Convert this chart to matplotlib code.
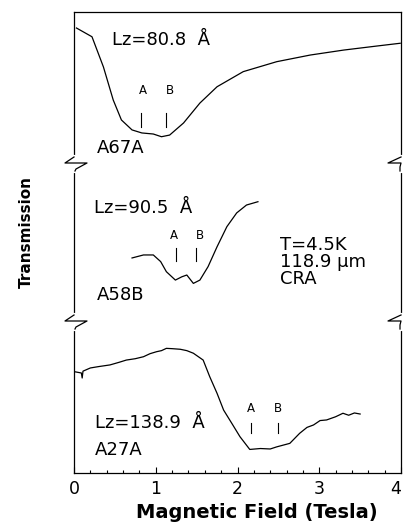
import matplotlib
matplotlib.use("Agg")
import matplotlib.pyplot as plt
from matplotlib.lines import Line2D
from matplotlib.ticker import MultipleLocator

plt.rcParams['font.family'] = ['DejaVu Sans']

# ---- data (relative transmission per panel) ----
b1 = [0.03, 0.22, 0.36, 0.48, 0.58, 0.71, 0.83, 0.97, 1.07, 1.17, 1.34, 1.54, 1.75, 2.07, 2.48, 2.89, 3.30, 3.71, 3.99]
t1 = [0.894, 0.836, 0.636, 0.417, 0.285, 0.219, 0.199, 0.192, 0.174, 0.185, 0.265, 0.397, 0.505, 0.605, 0.671, 0.715, 0.748, 0.775, 0.793]

b2 = [0.71, 0.85, 0.97, 1.06, 1.13, 1.24, 1.32, 1.38, 1.46, 1.54, 1.64, 1.75, 1.87, 1.99, 2.11, 2.25]
t2 = [0.399, 0.418, 0.418, 0.376, 0.312, 0.259, 0.280, 0.291, 0.238, 0.259, 0.344, 0.470, 0.597, 0.684, 0.734, 0.755]

b3 = [0.01, 0.09, 0.10, 0.11, 0.20, 0.30, 0.44, 0.55, 0.64, 0.75, 0.85, 0.93, 1.01, 1.07, 1.13, 1.20, 1.30, 1.38, 1.46,
      1.58, 1.66, 1.75, 1.83, 1.93, 2.03, 2.15, 2.28, 2.40, 2.48, 2.64, 2.76, 2.85, 2.93, 3.01, 3.09, 3.20, 3.29, 3.36, 3.43, 3.50]
t3 = [0.666, 0.658, 0.625, 0.670, 0.691, 0.700, 0.711, 0.728, 0.743, 0.752, 0.765, 0.785, 0.798, 0.805, 0.820, 0.818, 0.814, 0.805, 0.788,
      0.743, 0.634, 0.524, 0.414, 0.327, 0.239, 0.155, 0.161, 0.158, 0.172, 0.195, 0.261, 0.300, 0.316, 0.345, 0.349, 0.370, 0.393, 0.380, 0.395, 0.388]

xticks = [0, 1, 2, 3, 4]
xlabel = "Magnetic Field (Tesla)"
ylabel = "Transmission"

W, H = 403, 529
fig = plt.figure(figsize=(W / 100, H / 100), dpi=100)

xl, xr = 74, 401
bounds = [(12, 163), (163, 321), (321, 473)]
axes = []
for i, (top, bot) in enumerate(bounds):
    ax = fig.add_axes([xl / W, 1 - bot / H, (xr - xl) / W, (bot - top) / H])
    ax.set_xlim(0, 4)
    ax.set_ylim(0, 1)
    ax.set_yticks([])
    for s in ax.spines.values():
        s.set_linewidth(0.9)
    if i != 0:
        ax.spines['top'].set_visible(False)
    if i != 2:
        ax.spines['bottom'].set_visible(False)
        ax.set_xticks([])
    ax.patch.set_alpha(0)
    axes.append(ax)

ax1, ax2, ax3 = axes
lw = 0.9
ax1.plot(b1, t1, color='black', lw=lw)
ax2.plot(b2, t2, color='black', lw=lw)
ax3.plot(b3, t3, color='black', lw=lw)

ax3.set_xticks(xticks)
ax3.xaxis.set_minor_locator(MultipleLocator(0.2))
ax3.tick_params(axis='x', which='major', direction='in', length=4, width=0.8, labelsize=12.5, pad=5)
ax3.tick_params(axis='x', which='minor', direction='in', length=2.5, width=0.8)
for lab in ax3.get_xticklabels():
    if lab.get_text() == '4':
        lab.set_horizontalalignment('right')
fig.text(257 / W, 1 - 513 / H, xlabel, ha='center', va='center', fontsize=14, fontweight='bold')
fig.text(26 / W, 1 - 232 / H, ylabel, rotation=90, ha='center', va='center', fontsize=11, fontweight='bold')

fs = 13
fa = 8.5
# panel 1
ax1.text(0.46, 0.815, "Lz=80.8  Å", fontsize=fs, va='center')
ax1.text(0.84, 0.48, "A", fontsize=fa, ha='center', va='center')
ax1.text(1.17, 0.48, "B", fontsize=fa, ha='center', va='center')
ax1.plot([0.82, 0.82], [0.24, 0.33], color='black', lw=0.8)
ax1.plot([1.13, 1.13], [0.24, 0.33], color='black', lw=0.8)
ax1.text(0.28, 0.10, "A67A", fontsize=fs, va='center')

# panel 2
ax2.text(0.24, 0.715, "Lz=90.5  Å", fontsize=fs, va='center')
ax2.text(1.22, 0.54, "A", fontsize=fa, ha='center', va='center')
ax2.text(1.54, 0.54, "B", fontsize=fa, ha='center', va='center')
ax2.plot([1.25, 1.25], [0.38, 0.46], color='black', lw=0.8)
ax2.plot([1.49, 1.49], [0.38, 0.46], color='black', lw=0.8)
ax2.text(0.28, 0.165, "A58B", fontsize=fs, va='center')
ax2.text(2.52, 0.373, "T=4.5K\n118.9 \u03bcm\nCRA", fontsize=fs, va='center', linespacing=0.95)

# panel 3
ax3.text(0.26, 0.33, "Lz=138.9  Å", fontsize=fs, va='center')
ax3.text(0.26, 0.15, "A27A", fontsize=fs, va='center')
ax3.text(2.16, 0.425, "A", fontsize=fa, ha='center', va='center')
ax3.text(2.50, 0.425, "B", fontsize=fa, ha='center', va='center')
ax3.plot([2.16, 2.16], [0.26, 0.33], color='black', lw=0.8)
ax3.plot([2.49, 2.49], [0.26, 0.33], color='black', lw=0.8)

# break marks
def fline(pts, **kw):
    xs = [p[0] / W for p in pts]
    ys = [1 - p[1] / H for p in pts]
    fig.add_artist(Line2D(xs, ys, transform=fig.transFigure, **kw))

for by in (163, 321):
    fline([(xl, by - 6), (xl, by + 8)], color='white', lw=3)
    fline([(xr, by - 6), (xr, by + 8)], color='white', lw=3)
    fline([(xl, by - 6), (xl - 9, by), (xl + 13, by), (xl + 2, by + 6), (xl + 1, by + 8)], color='black', lw=0.9)
    fline([(xr, by - 6), (xr - 13, by), (xr, by), (xr - 1, by + 4), (xr - 1, by + 8)], color='black', lw=0.9)

fig.savefig("out.png", dpi=100)
